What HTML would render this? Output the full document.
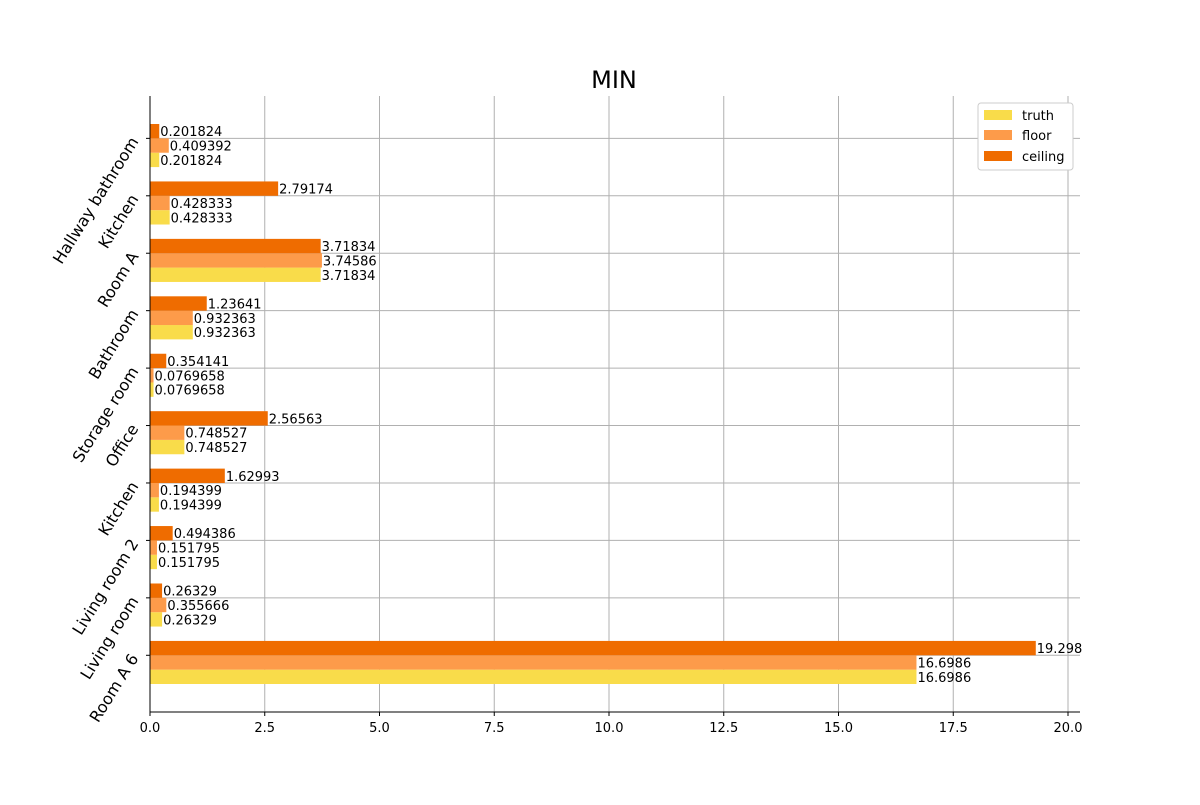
<!DOCTYPE html>
<html><head><meta charset="utf-8"><style>body{margin:0;background:#fff}svg{font-family:"DejaVu Sans","Liberation Sans",sans-serif}</style></head>
<body>
<svg id="chart" width="1200" height="800" xmlns="http://www.w3.org/2000/svg">
<text x="614" y="88" font-size="24" text-anchor="middle">MIN</text>
<g id="grid"></g><g id="bars"></g><g id="axes"></g>
<g>
<rect x="978" y="103" width="95" height="67" fill="#fff" stroke="#ccc" rx="3"/>
<rect x="984" y="110" width="28" height="10" fill="#f9dc4a"/>
<text x="1022" y="120" font-size="13">truth</text>
<rect x="984" y="130" width="28" height="10" fill="#fd9b4a"/>
<text x="1022" y="140" font-size="13">floor</text>
<rect x="984" y="151" width="28" height="10" fill="#ef6c00"/>
<text x="1022" y="161" font-size="13">ceiling</text>
</g>
</svg>
<script>
const categories=["Room A 6","Living room","Living room 2","Kitchen","Office","Storage room","Bathroom","Room A","Kitchen","Hallway bathroom"];
const truth=[16.6986,0.26329,0.151795,0.194399,0.748527,0.0769658,0.932363,3.71834,0.428333,0.201824];
const floorV=[16.6986,0.355666,0.151795,0.194399,0.748527,0.0769658,0.932363,3.74586,0.428333,0.409392];
const ceiling=[19.298,0.26329,0.494386,1.62993,2.56563,0.354141,1.23641,3.71834,2.79174,0.201824];
const xTicks=[0,2.5,5,7.5,10,12.5,15,17.5,20];
const xTickLabels=["0.0","2.5","5.0","7.5","10.0","12.5","15.0","17.5","20.0"];
const NS="http://www.w3.org/2000/svg";
const L=150,R=1080,T=96,B=712;
const sx=v=>L+v*(1068-150)/20;
const y0=-0.8625,y1=categories.length-1+0.8625;
const sy=v=>B-(v-y0)/(y1-y0)*(B-T);
function mk(t,a,p){const e=document.createElementNS(NS,t);for(const k in a)e.setAttribute(k,a[k]);p.appendChild(e);return e;}
const grid=document.getElementById('grid'),bars=document.getElementById('bars'),axes=document.getElementById('axes');
xTicks.forEach((v,i)=>{
 const g=mk('line',{x1:sx(v),x2:sx(v),y1:T,y2:B,stroke:'#b0b0b0','stroke-width':1},grid);
 
 
 mk('line',{x1:sx(v),x2:sx(v),y1:B,y2:B+4,stroke:'#000'},axes);
 const t=mk('text',{x:sx(v),y:B+20,'font-size':13,'text-anchor':'middle'},axes);
 t.textContent=xTickLabels[i];
 
 
});
categories.forEach((c,i)=>{
 const ty=sy(i+0.125);
 const g=mk('line',{x1:L,x2:R,y1:ty,y2:ty,stroke:'#b0b0b0','stroke-width':1},grid);
 
 
 mk('line',{x1:L-4,x2:L,y1:ty,y2:ty,stroke:'#000'},axes);
 const t=mk('text',{x:0,y:0,'font-size':16,'text-anchor':'end',transform:`translate(${L-11},${ty+3}) rotate(-58)`},axes);
 t.textContent=c;
 
 
});
const series=[[truth,'#f9dc4a',-0.25,'truth'],[floorV,'#fd9b4a',0,'floor'],[ceiling,'#ef6c00',0.25,'ceiling']];
const bh=sy(0)-sy(0.25);
series.forEach(([vals,col,off,name])=>{
 vals.forEach((v,i)=>{
  const c=i+off;
  const r=mk('rect',{x:L,y:sy(c+0.125),width:sx(v)-L,height:bh,fill:col},bars);
  
  
  const t=mk('text',{x:sx(v)+1,y:sy(c)+5,'font-size':13},bars);
  t.textContent=String(v);
  
  
 });
});
mk('line',{x1:L,x2:L,y1:T,y2:B,stroke:'#000'},axes);
mk('line',{x1:L,x2:R,y1:B,y2:B,stroke:'#000'},axes);
</script>
</body></html>
